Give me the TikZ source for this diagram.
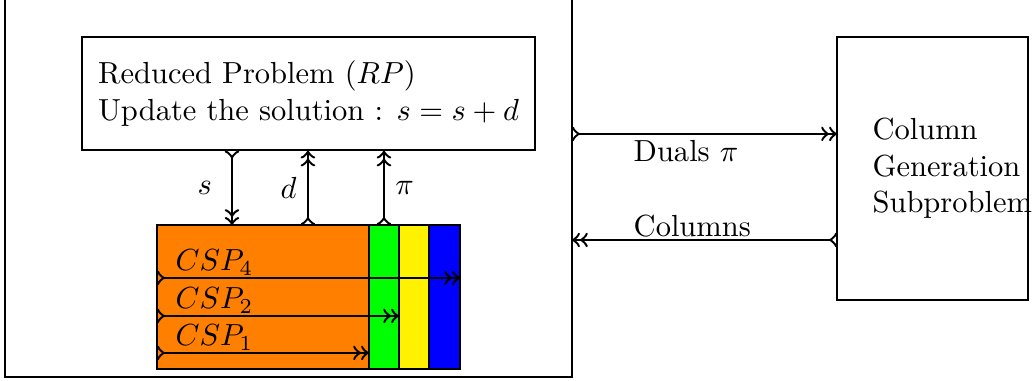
\documentclass[tikz,border=0pt]{standalone}
\usepackage{amsmath}
\usepackage{xcolor}
\usepackage{tikz}
\usetikzlibrary{calc}

\begin{document}
\begin{tikzpicture}[
  box/.style={draw, rectangle, inner sep=0pt, outer sep=0pt},
  flow/.style={>->>, thick},
]
  \useasboundingbox (0,0) rectangle (11.913,4.389);
  % ------- left frame: reduced problem and the CSP blocks -------
  \node[box, minimum width=6.532cm, minimum height=4.45cm, anchor=south west] (master) at (0.058,0.046) {};
  \node[draw, align=left, minimum width=5.219cm, minimum height=1.302cm] (rp) at (3.555,3.312)
    {Reduced Problem $(RP)$\\ Update the solution : $s = s + d$};
  \node[box, fill=orange, minimum width=2.442cm, minimum height=1.659cm, anchor=south west] (csporange) at (1.809,0.138) {};
  \node[box, fill=green, minimum width=0.346cm, minimum height=1.659cm, anchor=south west] (cspgreen) at (csporange.south east) {};
  \node[box, fill=yellow, minimum width=0.345cm, minimum height=1.659cm, anchor=south west] (cspyellow) at (cspgreen.south east) {};
  \node[box, fill=blue, minimum width=0.358cm, minimum height=1.659cm, anchor=south west] (cspblue) at (cspyellow.south east) {};
  % s, d and pi between RP and the blocks
  \coordinate (sx) at (2.673,0);
  \coordinate (dx) at (3.548,0);
  \draw[flow] (rp.south -| sx) -- node[left, xshift=-0.1cm] {$s$} (csporange.north -| sx);
  \draw[flow] (csporange.north -| dx) -- node[left] {$d$} (rp.south -| dx);
  \draw[flow] (cspgreen.north) -- node[right] {$\pi$} (rp.south -| cspgreen.north);
  % ------- the three CSP rows -------
  \coordinate (c4) at (0,1.187);
  \coordinate (c2) at (0,0.749);
  \coordinate (c1) at (0,0.323);
  \draw[flow] (csporange.west |- c4) -- (cspblue.east |- c4);
  \draw[flow] (csporange.west |- c2) -- (cspgreen.east |- c2);
  \draw[flow] (csporange.west |- c1) -- (csporange.east |- c1);
  \node[anchor=base west] (csp4) at ($(csporange.west |- c4)+(0.09,0.08)$) {$CSP_4$};
  \node[anchor=base west] (csp2) at ($(csporange.west |- c2)+(0.09,0.08)$) {$CSP_2$};
  \node[anchor=base west] (csp1) at ($(csporange.west |- c1)+(0.09,0.08)$) {$CSP_1$};
  % ------- right frame: the subproblem -------
  \node[box, minimum width=2.2cm, minimum height=3.03cm] (cg) at (10.743,2.448) {};
  \node[align=left, anchor=west] (cgtext) at ($(cg.west)+(0.286,0)$) {Column\\Generation\\Subproblem};
  \coordinate (dy) at (0,2.846);
  \coordinate (cy) at (0,1.624);
  \draw[flow] (master.east |- dy) -- node[pos=0.19, below right, yshift=0.06cm] {Duals $\pi$} (cg.west |- dy);
  \draw[flow] (cg.west |- cy) -- node[pos=0.81, above right, yshift=-0.1cm] {Columns} (master.east |- cy);
\end{tikzpicture}
\end{document}
